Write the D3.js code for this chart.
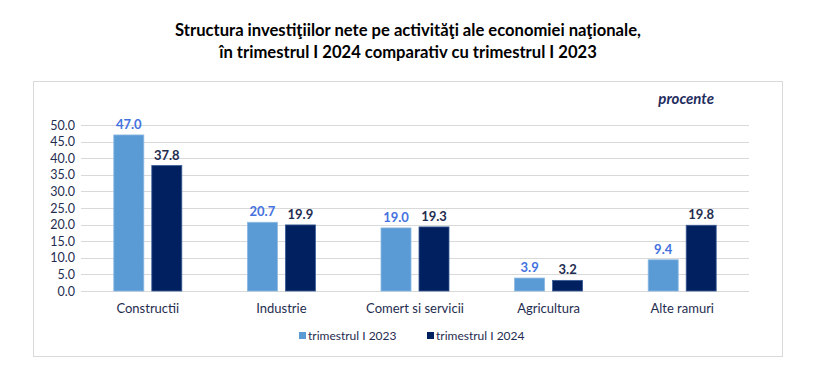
<!DOCTYPE html>
<html><head><meta charset="utf-8">
<script src="https://cdn.jsdelivr.net/npm/d3@7"></script>
<style>body{margin:0;background:#fff;}svg{display:block;font-family:Lato, "Open Sans", sans-serif;}</style>
</head><body><svg id="c" width="814" height="386"></svg>
<script>
const categories = ["Constructii","Industrie","Comert si servicii","Agricultura","Alte ramuri"];
const series2023 = [47.0, 20.7, 19.0, 3.9, 9.4];
const series2024 = [37.8, 19.9, 19.3, 3.2, 19.8];
const seriesNames = ["trimestrul I 2023","trimestrul I 2024"];
const yTicks = [0,5,10,15,20,25,30,35,40,45,50];
const titleLines = ["Structura investiţiilor nete pe activităţi ale economiei naţionale,","în trimestrul I 2024 comparativ cu trimestrul I 2023"];
const unitLabel = "procente";
const colors = ["#5B9BD5","#002060"];
const labelColors = ["#4472E0","#1F2D50"];

const svg = d3.select("#c");
svg.append("rect").attr("x",33.5).attr("y",81.5).attr("width",749).attr("height",275)
  .attr("fill","#fff").attr("stroke","#d9d9d9").attr("stroke-width",1);

titleLines.forEach((t,i)=>svg.append("text").attr("x",408).attr("y",36+i*22).attr("text-anchor","middle")
  .attr("font-size",16.6).attr("font-weight","bold").attr("fill","#000").text(t));

svg.append("text").attr("x",714).attr("y",104).attr("text-anchor","end").attr("font-size",15)
  .attr("font-weight","bold").attr("font-style","italic").attr("fill","#1F2D60").text(unitLabel);

const L=81, R=749, T=125, B=291;
const x = d3.scaleBand().domain(categories).range([L,R]).paddingInner(0).paddingOuter(0);
const y = d3.scaleLinear().domain([0,50]).range([B,T]);

const g = svg.append("g");
g.selectAll("line.grid").data(yTicks).join("line").attr("x1",L).attr("x2",R)
  .attr("y1",d=>Math.round(y(d))+0.5).attr("y2",d=>Math.round(y(d))+0.5).attr("stroke","#d9d9d9");

const yAxis = d3.axisLeft(y).tickValues(yTicks).tickFormat(d3.format(".1f")).tickSize(0).tickPadding(6);
const ya = svg.append("g").attr("transform",`translate(${L},0)`).call(yAxis);
ya.select(".domain").remove();
ya.selectAll("text").attr("font-size",12.5).attr("fill","#1F2D50").attr("font-family","Lato, sans-serif");

const barW = 30, gap = 8;
const sets = [series2023, series2024];
sets.forEach((vals,si)=>{
  const off = si===0 ? -(gap/2+barW) : gap/2;
  svg.append("g").selectAll("rect").data(vals).join("rect")
    .attr("x",(d,i)=>x(categories[i])+x.bandwidth()/2+off)
    .attr("y",d=>y(d)).attr("width",barW).attr("height",d=>B-y(d))
    .attr("fill",colors[si]).attr("stroke", si===0?"#8DB8E2":"#3A5C96").attr("stroke-width",0.8);
  svg.append("g").selectAll("text").data(vals).join("text")
    .attr("x",(d,i)=>x(categories[i])+x.bandwidth()/2+off+barW/2)
    .attr("y",d=>y(d)-6).attr("text-anchor","middle").attr("font-size",13).attr("font-weight","bold")
    .attr("fill",labelColors[si]).text(d=>d.toFixed(1));
});

const xAxis = d3.axisBottom(x).tickSize(0).tickPadding(13);
const xa = svg.append("g").attr("transform",`translate(0,${B})`).call(xAxis);
xa.select(".domain").remove();
xa.selectAll("text").attr("font-size",13).attr("fill","#1F2D50").attr("font-family","Lato, sans-serif");

const legX = [299, 427];
seriesNames.forEach((n,i)=>{
  svg.append("rect").attr("x",legX[i]).attr("y",332).attr("width",7).attr("height",7).attr("fill",colors[i]);
  svg.append("text").attr("x",legX[i]+9).attr("y",340).attr("font-size",12).attr("fill","#1F2D50").text(n);
});
</script></body></html>
